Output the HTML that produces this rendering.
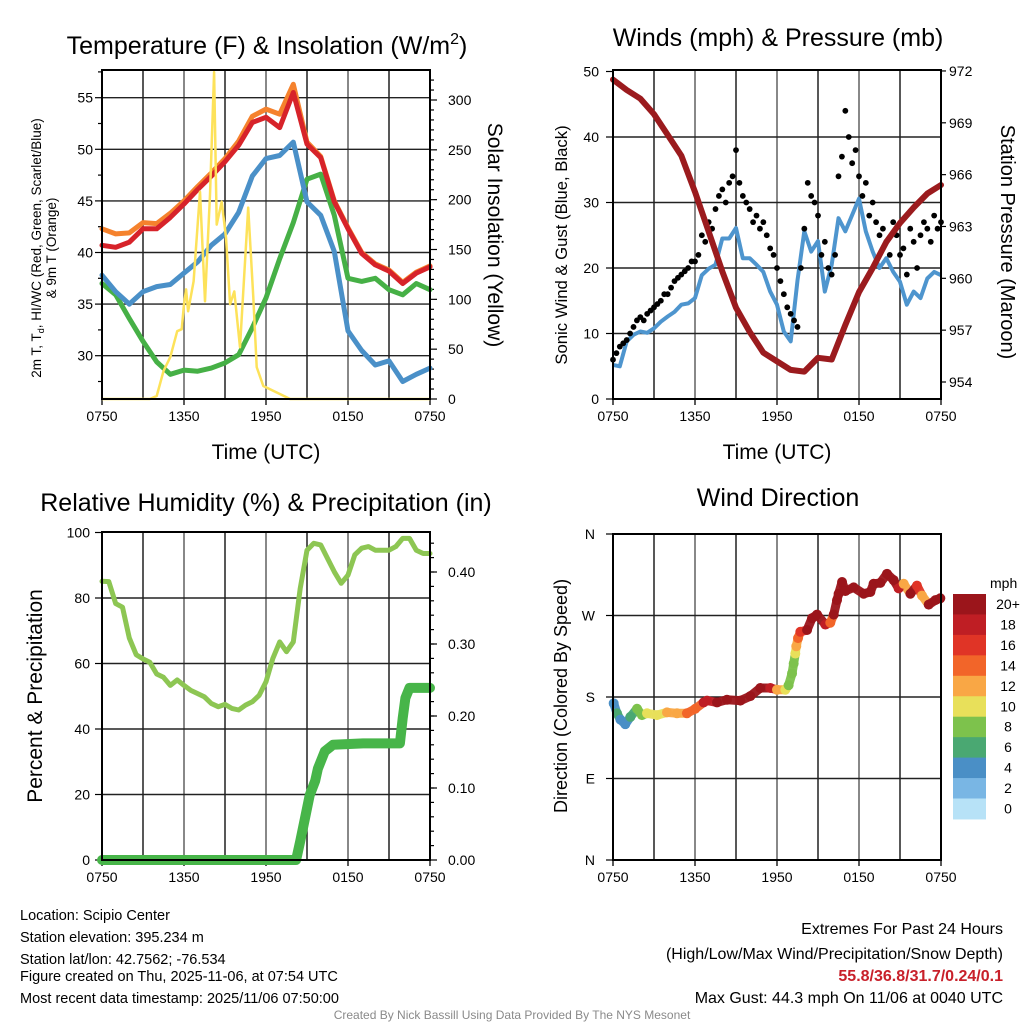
<!DOCTYPE html>
<html><head><meta charset="utf-8"><title>Scipio Center Meteogram</title>
<style>
html,body{margin:0;padding:0;background:#fff;}
svg{display:block;font-family:"Liberation Sans",Arial,sans-serif;}
</style></head>
<body>
<svg id="root" width="1024" height="1024" viewBox="0 0 1024 1024" xmlns="http://www.w3.org/2000/svg">
<rect x="0" y="0" width="1024" height="1024" fill="#fff"/>
<g id="g1"></g>
<g id="g2"></g>
<g id="g3"></g>
<g id="g4"></g>

<text x="267" y="54" font-size="25" text-anchor="middle">Temperature (F) &amp; Insolation (W/m<tspan dy="-10" font-size="16">2</tspan><tspan dy="10">)</tspan></text>
<text x="778" y="46" font-size="25" text-anchor="middle">Winds (mph) &amp; Pressure (mb)</text>
<text x="266" y="511" font-size="25" text-anchor="middle">Relative Humidity (%) &amp; Precipitation (in)</text>
<text x="778" y="506" font-size="25" text-anchor="middle">Wind Direction</text>

<text x="266" y="459" font-size="21" text-anchor="middle">Time (UTC)</text>
<text x="777" y="459" font-size="21" text-anchor="middle">Time (UTC)</text>

<text transform="translate(41,248) rotate(-90)" font-size="13.5" text-anchor="middle">2m T, T<tspan dy="3" font-size="9">d</tspan><tspan dy="-3">, HI/WC (Red, Green, Scarlet/Blue)</tspan></text>
<text transform="translate(56,248) rotate(-90)" font-size="13.5" text-anchor="middle">&amp; 9m T (Orange)</text>
<text transform="translate(488,235) rotate(90)" font-size="21" text-anchor="middle">Solar Insolation (Yellow)</text>
<text transform="translate(567,245) rotate(-90)" font-size="16.7" text-anchor="middle">Sonic Wind &amp; Gust (Blue, Black)</text>
<text transform="translate(1001,242) rotate(90)" font-size="20" text-anchor="middle">Station Pressure (Maroon)</text>
<text transform="translate(42,696) rotate(-90)" font-size="21" text-anchor="middle">Percent &amp; Precipitation</text>
<text transform="translate(567,696) rotate(-90)" font-size="18" text-anchor="middle">Direction (Colored By Speed)</text>

<g font-size="14.5">
<text x="20" y="920">Location: Scipio Center</text>
<text x="20" y="942">Station elevation: 395.234 m</text>
<text x="20" y="964">Station lat/lon: 42.7562; -76.534</text>
<text x="20" y="981">Figure created on Thu, 2025-11-06, at 07:54 UTC</text>
<text x="20" y="1003">Most recent data timestamp: 2025/11/06 07:50:00</text>
</g>
<g font-size="16" text-anchor="end">
<text x="1003" y="934">Extremes For Past 24 Hours</text>
<text x="1003" y="959">(High/Low/Max Wind/Precipitation/Snow Depth)</text>
<text x="1003" y="981" fill="#C8202A" font-weight="bold">55.8/36.8/31.7/0.24/0.1</text>
<text x="1003" y="1003">Max Gust: 44.3 mph On 11/06 at 0040 UTC</text>
</g>
<text x="512" y="1019" font-size="12" fill="#8a8a8a" text-anchor="middle">Created By Nick Bassill Using Data Provided By The NYS Mesonet</text>
</svg>
<script>
// ---- data (hours since 0750 UTC) ----
const xTickLabels = ["0750","1350","1950","0150","0750"];
const hourly = [0,1,2,3,4,5,6,7,8,9,10,11,12,13,14,15,16,17,18,19,20,21,22,23,24];
const tempRed = [40.7,40.5,41.0,42.3,42.3,43.4,44.7,46.1,47.4,48.8,50.4,52.6,53.1,52.1,55.5,50.5,49.2,44.9,42.3,39.9,38.8,38.2,37.0,38.0,38.6];
const tempOrange = [42.3,41.8,41.9,42.9,42.8,43.8,45.0,46.4,47.7,49.1,50.8,53.2,53.9,53.4,56.3,50.7,49.3,45.0,42.4,40.0,38.9,38.3,37.1,38.1,38.7];
const tempBlue = [37.8,36.2,35.0,36.2,36.7,36.9,38.0,39.1,40.7,41.8,43.9,47.4,49.1,49.4,50.7,44.9,43.6,40.1,32.4,30.5,29.1,29.5,27.5,28.2,28.8];
const tempGreen = [37.0,35.9,33.6,31.4,29.4,28.2,28.6,28.5,28.8,29.3,30.1,32.7,35.6,39.4,42.9,47.1,47.6,43.6,37.5,37.2,37.5,36.4,35.9,37.0,36.4];
const insolTime = [0,3.5,4.0,4.5,5.0,5.5,5.83,6.0,6.15,6.3,6.7,7.17,7.54,7.9,8.2,8.39,8.76,9.07,9.37,9.68,10.1,10.7,11.07,11.32,11.8,13.02,13.76,24];
const insolVals = [0,0,3,28,42,68,70,95,110,88,118,208,98,205,328,175,198,162,95,108,52,192,102,32,13,5,0,0];
const tempTicks = [30,35,40,45,50,55];
const insolTicks = [0,50,100,150,200,250,300];

const halfHourly = [0,0.5,1,1.5,2,2.5,3,3.5,4,4.5,5,5.5,6,6.5,7,7.5,8,8.5,9,9.5,10,10.5,11,11.5,12,12.5,13,13.5,14,14.5,15,15.5,16,16.5,17,17.5,18,18.5,19,19.5,20,20.5,21,21.5,22,22.5,23,23.5,24];
const sonicWind = [5.2,5.0,8.8,9.8,10.3,10.1,10.8,11.8,12.6,13.3,14.4,14.6,15.4,18.9,19.9,20.5,24.5,24.5,26.1,21.5,21.5,20.5,19.4,16.4,14.4,10.3,8.8,18.1,25.6,22.5,24.1,16.4,20.5,27.6,25.6,28.1,30.6,25.6,22.5,20.0,21.5,19.4,17.9,14.4,16.4,15.4,18.4,19.4,18.9];
const gustStep = 0.25;
const gustVals = [6,7,8,8.5, 9,10,11,12, 12.5,12,13,13.5, 14,14.5,15,16, 16,17,18,18.5, 19,19.5,20,21, 21,22,25,24, 27,26,29,31, 32,30,33,34, 38,33,31,30, 29,27,28,26, 27,25,23,22, 20,18,16,14, 13,12,11,20, 26,33,31,30, 28,22,24,20, 19,22,34,37, 44,40,36,38, 34,31,33,28, 30,27,25,26, 24,22,27,25, 22,23,19,26, 24,20,25,27, 26,24,28,26, 27];
const pressure = [971.5,970.9,970.4,969.5,968.3,967.1,965.0,962.7,960.4,958.3,956.9,955.7,955.2,954.7,954.6,955.4,955.3,957.3,959.2,960.6,962.1,963.2,964.1,964.9,965.4];
const windTicks = [0,10,20,30,40,50];
const pressTicks = [954,957,960,963,966,969,972];

const rhVals = [85.1,85.0,78.3,77.2,67.8,62.7,61.4,60.4,56.8,55.8,53.3,55.0,53.3,51.8,50.8,49.8,47.8,46.8,47.5,46.3,45.8,47.3,48.3,50.3,54.4,61.5,66.6,63.6,66.6,82.9,94.6,96.7,96.2,92.1,88.0,84.5,87.0,93.2,95.2,95.7,94.6,94.6,94.6,95.7,98.2,98.2,94.6,93.6,93.6];
const precipTime = [0,14.2,14.5,14.85,15.2,15.6,15.8,16.3,16.9,19.1,21.8,22.0,22.2,22.5,24];
const precipVals = [0,0,0.026,0.058,0.09,0.11,0.127,0.151,0.16,0.162,0.162,0.197,0.225,0.239,0.239];
const rhTicks = [0,20,40,60,80,100];
const precipTicks = [0,0.1,0.2,0.3,0.4];

const dirTime = [0.05,0.29,0.54,0.9,1.27,1.76,2.12,2.49,3.22,3.95,4.68,5.41,6.02,6.63,6.88,7.61,8.34,9.32,10.05,10.78,11.51,12.0,12.61,12.85,13.1,13.22,13.34,13.41,13.54,13.71,14.2,14.56,14.93,15.54,15.9,16.15,16.39,16.51,16.76,17.0,17.61,18.34,18.83,19.07,19.56,20.05,20.54,20.9,21.27,21.76,22.24,22.61,23.1,23.59,23.95];
const dirDeg = [173,162,155,150,158,167,160,162,160,163,162,162,167,174,176,174,177,176,181,190,190,188,188,193,206,217,228,236,245,252,254,267,271,260,262,271,287,294,307,297,301,294,296,305,306,316,309,300,305,294,303,292,282,287,289];
const dirSpeed = [4,6,4,4,7,8,9,10,10,12,12,14,15,18,19,21,21,21,21,21,18,13,10,8,8,8,10,12,14,17,21,21,21,18,15,21,21,21,21,21,21,21,21,21,21,21,21,18,13,21,17,13,21,21,21];
const dirTickLabels = ["N","E","S","W","N"];
const dirTickDeg = [0,90,180,270,360];
const speedLevels = ["0","2","4","6","8","10","12","14","16","18","20+"];
const speedColors = ["#B7E2F7","#79B6E4","#4A8FC6","#4AA872","#7DC24C","#E8E05A","#F9A745","#F26529","#E03426","#BF1E24","#9B151B"];

// ---- helpers ----
const NS = "http://www.w3.org/2000/svg";
function el(parent, tag, attrs) {
  const e = document.createElementNS(NS, tag);
  for (const k in attrs) e.setAttribute(k, attrs[k]);
  parent.appendChild(e);
  return e;
}
function path(xs, ys, xf, yf) {
  return xs.map((x, i) => (i ? "L" : "M") + xf(x).toFixed(1) + "," + yf(ys[i]).toFixed(1)).join("");
}

function frame(g, L, R, T, B, nameBase) {
  for (let h = 3; h < 24; h += 3) {
    const x = L + h / 24 * (R - L);
    const ln = el(g, "line", {x1: x, x2: x, y1: T, y2: B, stroke: h % 6 === 0 ? "#555" : "#111", "stroke-width": 1.4});
    
    
  }
  xTickLabels.forEach((lab, i) => {
    const x = L + i * 6 / 24 * (R - L);
    const t = el(g, "text", {x: x, y: B + 22, "font-size": 14, "text-anchor": "middle"});
    t.textContent = lab;
    
    
    const tk = el(g, "line", {x1: x, x2: x, y1: B, y2: B + 6, stroke: "#000", "stroke-width": 1.3});
    
    
  });
}
function hgrid(g, L, R, y, nameBase) {
  const ln = el(g, "line", {x1: L, x2: R, y1: y, y2: y, stroke: "#222", "stroke-width": 1.4});
  
  
}
function yLabel(g, x, y, txt, anchor, nameBase) {
  const t = el(g, "text", {x: x, y: y + 5, "font-size": 14, "text-anchor": anchor});
  t.textContent = txt;
  
  
}
function tick(g, x1, x2, y, nameBase) {
  const l = el(g, "line", {x1: x1, x2: x2, y1: y, y2: y, stroke: "#000", "stroke-width": 1.2});
  
  
}
function border(g, L, R, T, B, nameBase) {
  const r = el(g, "rect", {x: L, y: T, width: R - L, height: B - T, fill: "none", stroke: "#000", "stroke-width": 2});
  
  
}

// ---- Panel 1: temperature ----
(function () {
  const g = document.getElementById("g1");
  const L = 102, R = 430, T = 70, B = 399;
  const xs = h => L + h / 24 * (R - L);
  const yT = v => 97.7 + (55 - v) * 10.32;
  const yI = v => B - v * (B - 100) / 300;
  frame(g, L, R, T, B, "temperature");
  tempTicks.forEach(v => { hgrid(g, L, R, yT(v), "temperature"); yLabel(g, L - 9, yT(v), String(v), "end", "temperature-y-tick-label"); tick(g, L - 7, L, yT(v), "temperature-y-tick"); tick(g, L - 4, L, yT(v + 2.5), "temperature-y-minor-tick"); });
  tick(g, L - 4, L, yT(27.5), "temperature-y-minor-tick");
  insolTicks.forEach(v => { yLabel(g, R + 18, yI(v), String(v), "start", "insolation-y-tick-label"); tick(g, R, R + 7, yI(v), "insolation-y-tick"); });
  for (let v = 10; v < 330; v += 10) if (v % 50) tick(g, R, R + 4, yI(v), "insolation-y-minor-tick");
  const series = [[tempGreen, "#46B046", "dewpoint-line"], [tempBlue, "#4A90C8", "wind-chill-line"], [tempOrange, "#F5822D", "temperature-9m-line"], [tempRed, "#D7232A", "temperature-2m-line"]];
  series.forEach(s => {
    const p = el(g, "path", {d: path(hourly, s[0], xs, yT), fill: "none", stroke: s[1], "stroke-width": 5, "stroke-linejoin": "round", "stroke-linecap": "round"});
    
    
  });
  const ins = el(g, "path", {d: path(insolTime, insolVals, xs, yI), fill: "none", stroke: "#FDE25A", "stroke-width": 2.5, "stroke-linejoin": "round"});
  
  
  border(g, L, R, T, B, "temperature");
})();

// ---- Panel 2: wind & pressure ----
(function () {
  const g = document.getElementById("g2");
  const L = 613, R = 941, T = 70, B = 399;
  const xs = h => L + h / 24 * (R - L);
  const yW = v => B - v * 6.55;
  const yP = p => 382 - (p - 954) * 17.28;
  frame(g, L, R, T, B, "wind");
  windTicks.forEach(v => { if (v > 0 && v < 50) hgrid(g, L, R, yW(v), "wind"); yLabel(g, L - 14, yW(v), String(v), "end", "wind-y-tick-label"); tick(g, L - 7, L, yW(v), "wind-y-tick"); });
  pressTicks.forEach(v => { yLabel(g, R + 8, yP(v), String(v), "start", "pressure-y-tick-label"); tick(g, R, R + 5, yP(v), "pressure-y-tick"); });
  const wl = el(g, "path", {d: path(halfHourly, sonicWind, xs, yW), fill: "none", stroke: "#4E95CE", "stroke-width": 4, "stroke-linejoin": "round"});
  
  
  gustVals.forEach((v, i) => {
    const c = el(g, "circle", {cx: xs(i * gustStep), cy: yW(v), r: 2.9, fill: "#000"});
    
    
  });
  const pl = el(g, "path", {d: path(hourly, pressure, xs, yP), fill: "none", stroke: "#9B1B1E", "stroke-width": 6, "stroke-linejoin": "round", "stroke-linecap": "round"});
  
  
  border(g, L, R, T, B, "wind");
})();

// ---- Panel 3: humidity & precip ----
(function () {
  const g = document.getElementById("g3");
  const L = 102, R = 430, T = 532, B = 860;
  const xs = h => L + h / 24 * (R - L);
  const yR = v => B - v * 3.275;
  const yPr = v => B - v * 720;
  frame(g, L, R, T, B, "humidity");
  rhTicks.forEach(v => { if (v > 0 && v < 100) hgrid(g, L, R, yR(v), "humidity"); yLabel(g, L - 12, yR(v), String(v), "end", "humidity-y-tick-label"); tick(g, L - 7, L, yR(v), "humidity-y-tick"); });
  precipTicks.forEach(v => { yLabel(g, R + 18, yPr(v), v.toFixed(2), "start", "precip-y-tick-label"); tick(g, R, R + 7, yPr(v), "precip-y-tick"); });
  for (let v = 0.02; v < 0.46; v += 0.02) tick(g, R, R + 4, yPr(v), "precip-y-minor-tick");
  const rl = el(g, "path", {d: path(halfHourly, rhVals, xs, yR), fill: "none", stroke: "#8DC653", "stroke-width": 5, "stroke-linejoin": "round", "stroke-linecap": "round"});
  
  
  const pr = el(g, "path", {d: path(precipTime, precipVals, xs, yPr), fill: "none", stroke: "#47B549", "stroke-width": 10, "stroke-linejoin": "round", "stroke-linecap": "round"});
  
  
  border(g, L, R, T, B, "humidity");
})();

// ---- Panel 4: wind direction ----
(function () {
  const g = document.getElementById("g4");
  const L = 613, R = 941, T = 534, B = 860;
  const xs = h => L + h / 24 * (R - L);
  const yD = d => B - d * (B - T) / 360;
  frame(g, L, R, T, B, "direction");
  dirTickDeg.forEach((d, i) => { if (d > 0 && d < 360) hgrid(g, L, R, yD(d), "direction"); yLabel(g, L - 18, yD(d), dirTickLabels[i], "end", "direction-y-tick-label"); tick(g, L - 7, L, yD(d), "direction-y-tick"); });
  const col = s => speedColors[Math.min(10, Math.max(0, Math.floor(s / 2)))];
  for (let i = 0; i < dirTime.length - 1; i++) {
    const seg = el(g, "line", {x1: xs(dirTime[i]), y1: yD(dirDeg[i]), x2: xs(dirTime[i + 1]), y2: yD(dirDeg[i + 1]), stroke: col(dirSpeed[i]), "stroke-width": 9, "stroke-linecap": "round", opacity: 0.95});
    
    
  }
  dirTime.forEach((t, i) => {
    const c = el(g, "circle", {cx: xs(t), cy: yD(dirDeg[i]), r: 5, fill: col(dirSpeed[i])});
    
    
  });
  border(g, L, R, T, B, "direction");
  const cbT = 594, cbH = 20.45;
  const ut = el(g, "text", {x: 990, y: 588, "font-size": 14, "text-anchor": "start"});
  ut.textContent = "mph";
  
  
  for (let k = 0; k < 11; k++) {
    const idx = 10 - k;
    const r = el(g, "rect", {x: 953, y: cbT + k * cbH, width: 33, height: cbH + 0.5, fill: speedColors[idx]});
    
    
    const t = el(g, "text", {x: 1008, y: cbT + k * cbH + 15, "font-size": 14, "text-anchor": "middle"});
    t.textContent = speedLevels[idx];
    
    
  }
})();
</script>
</body></html>
